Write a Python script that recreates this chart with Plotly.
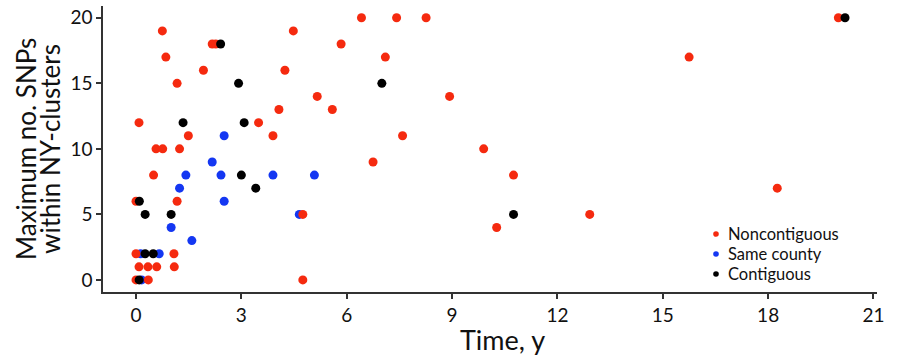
import plotly.graph_objects as go

# Noncontiguous (red)
nc_x = [0.75, 4.48, 2.17, 2.27, 0.85, 1.92, 4.24, 1.17, 5.16, 4.07, 0.085, 3.49, 1.49, 3.90,
        0.57, 0.76, 1.24, 0.50, 0.0, 1.17, 4.75, 0.0, 1.08, 0.085, 0.34, 0.59, 1.09, 0.0, 0.35, 4.75,
        6.42, 7.42, 8.26, 5.84, 7.10, 8.93, 5.59, 7.59, 9.90, 6.75, 10.75, 12.92, 10.27, 20.0, 15.75, 18.26]
nc_y = [19, 19, 18, 18, 17, 16, 16, 15, 14, 13, 12, 12, 11, 11,
        10, 10, 10, 8, 6, 6, 5, 2, 2, 1, 1, 1, 1, 0, 0, 0,
        20, 20, 20, 18, 17, 14, 13, 11, 10, 9, 8, 5, 4, 20, 17, 7]

# Same county (blue)
sc_x = [2.51, 2.17, 1.42, 2.42, 3.90, 5.08, 1.24, 2.51, 4.65, 1.0, 1.59, 0.13, 0.66, 0.16]
sc_y = [11, 9, 8, 8, 8, 8, 7, 6, 5, 4, 3, 2, 2, 0]

# Contiguous (black)
ct_x = [2.41, 2.92, 1.34, 3.08, 3.0, 3.41, 0.095, 0.26, 1.0, 0.26, 0.49, 0.09, 7.0, 10.75, 20.19]
ct_y = [18, 15, 12, 12, 8, 7, 6, 5, 5, 2, 2, 0, 15, 5, 20]

series_names = ["Noncontiguous", "Same county", "Contiguous"]
x_ticks = [0, 3, 6, 9, 12, 15, 18, 21]
y_ticks = [0, 5, 10, 15, 20]
x_title = "Time, y"
y_title_lines = ["Maximum no. SNPs", "within NY-clusters"]

RED = "#F52A0F"
BLUE = "#1437F2"
BLACK = "#000000"
FONT = "Lato"
TXT = "#111111"
AXC = "#333333"

W, H = 900, 359
L, R, T, B = 103, 23, 6, 67
PW, PH = W - L - R, H - T - B


def px_x(px):
    return (px - L) / PW


def px_y(py):
    return (H - B - py) / PH


fig = go.Figure()
cols = {"Noncontiguous": RED, "Same county": BLUE, "Contiguous": BLACK}
data = {"Noncontiguous": (nc_x, nc_y), "Same county": (sc_x, sc_y), "Contiguous": (ct_x, ct_y)}
for name in ["Same county", "Noncontiguous", "Contiguous"]:
    xs, ys = data[name]
    fig.add_trace(go.Scatter(x=xs, y=ys, mode="markers", name=name, showlegend=False,
                             marker=dict(color=cols[name], size=9, line=dict(width=0))))

fig.update_layout(
    width=W, height=H,
    margin=dict(l=L, r=R, t=T, b=B),
    plot_bgcolor="white", paper_bgcolor="white",
    font=dict(family=FONT, color=TXT),
    showlegend=False,
    xaxis=dict(range=[-0.94, 21.1], tickvals=x_ticks, ticktext=[str(v) for v in x_ticks],
               showgrid=False, zeroline=False, showline=True, linecolor=AXC, linewidth=1.5,
               ticks="outside", ticklen=5, tickcolor=AXC, tickwidth=1.5, automargin=False,
               tickfont=dict(size=19, family=FONT, color=TXT)),
    yaxis=dict(range=[-0.92, 20.9], tickvals=y_ticks, ticktext=[str(v) for v in y_ticks],
               showgrid=False, zeroline=False, showline=True, linecolor=AXC, linewidth=1.5,
               ticks="outside", ticklen=5, tickcolor=AXC, tickwidth=1.5, automargin=False,
               tickfont=dict(size=19, family=FONT, color=TXT)),
)

# axis titles
fig.add_annotation(text=x_title, xref="paper", yref="paper", x=px_x(503), y=px_y(339),
                   xanchor="center", yanchor="middle", showarrow=False,
                   font=dict(size=27, family=FONT, color=TXT))
for txt, cx in zip(y_title_lines, [26, 50]):
    fig.add_annotation(text=txt, xref="paper", yref="paper", x=px_x(cx), y=0.5,
                       xanchor="center", yanchor="middle", textangle=-90, showarrow=False,
                       font=dict(size=26, family=FONT, color=TXT))

# legend
for name, cy in zip(series_names, [234, 254, 274]):
    r = 2.8
    fig.add_shape(type="circle", xref="paper", yref="paper",
                  x0=px_x(716 - r), x1=px_x(716 + r), y0=px_y(cy + r), y1=px_y(cy - r),
                  fillcolor=cols[name], line=dict(width=0))
    fig.add_annotation(text=name, xref="paper", yref="paper", x=px_x(726), y=px_y(cy),
                       xanchor="left", yanchor="middle", showarrow=False,
                       font=dict(size=16.5, family=FONT, color=TXT))

fig.write_html("out.html", config={"displayModeBar": False},
               post_script="document.body.style.margin='0';document.body.style.overflow='hidden';")
